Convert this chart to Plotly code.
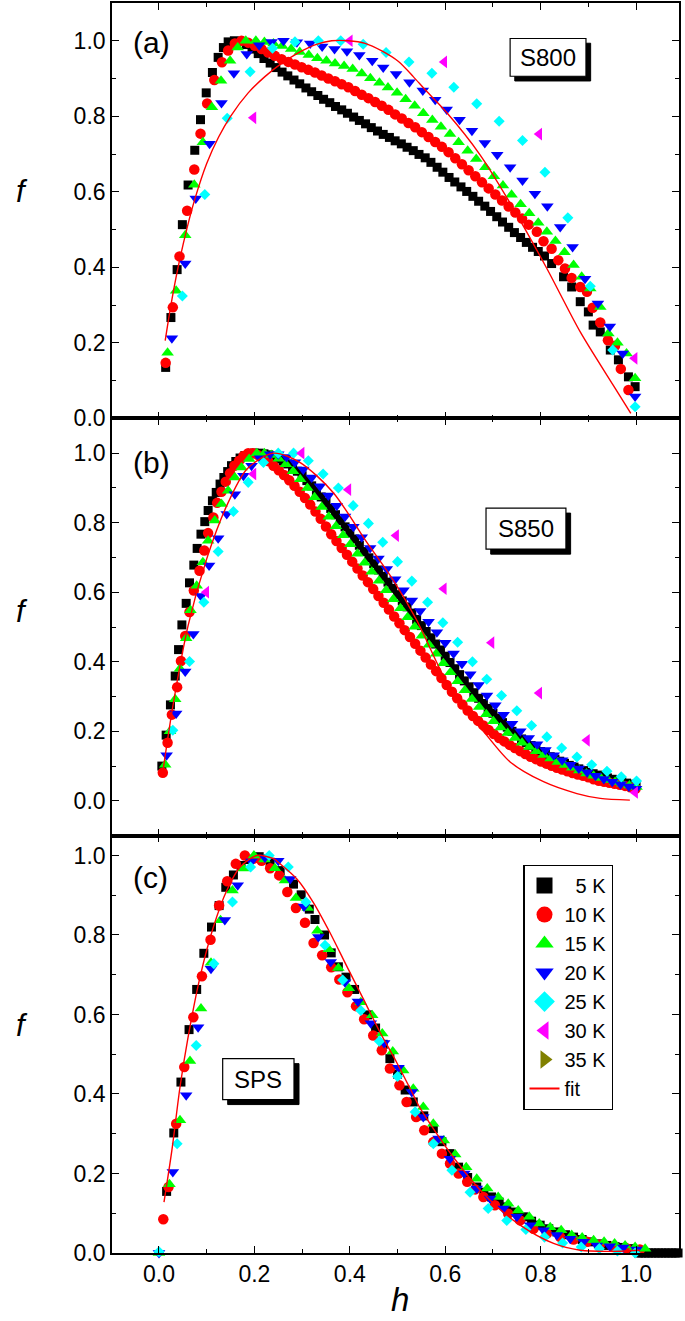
import plotly.graph_objects as go
from plotly.subplots import make_subplots

# ---------------- Panel (a) S800 ----------------
h_a5 = [0.014,0.025,0.038,0.049,0.061,0.075,0.087,0.099,0.112,0.124,0.135,0.145,0.158,
        0.17,0.183,0.195,0.208,0.22,0.233,0.245,0.258,0.27,0.283,0.295,0.308,0.32,0.333,0.345,0.358,0.37,0.383,0.395,0.408,
        0.42,0.433,0.445,0.458,0.47,0.483,0.495,0.508,0.52,0.533,0.545,0.558,0.57,0.583,0.595,0.608,0.62,0.633,0.645,0.658,
        0.67,0.683,0.695,0.708,0.72,0.733,0.745,0.758,0.77,0.783,0.795,0.808,0.823,0.848,0.865,0.883,0.9,0.91,0.925,0.946,
        0.963,0.984,0.998]
f_a5 = [0.135,0.267,0.394,0.513,0.618,0.71,0.791,0.862,0.916,0.956,0.982,0.997,1.0,
        0.998,0.99,0.978,0.966,0.953,0.941,0.929,0.917,0.907,0.896,0.886,0.875,0.865,0.855,0.845,0.836,0.826,0.817,0.808,0.798,
        0.789,0.78,0.77,0.761,0.752,0.744,0.735,0.727,0.718,0.709,0.699,0.69,0.678,0.665,0.652,0.638,0.626,0.613,0.601,0.588,
        0.575,0.562,0.548,0.534,0.52,0.506,0.492,0.479,0.466,0.453,0.442,0.43,0.41,0.375,0.348,0.309,0.282,0.247,0.229,0.181,
        0.155,0.11,0.084]

h_a10 = [0.014,0.029,0.043,0.059,0.074,0.087,0.101,0.116,0.132,0.145,0.159,0.173,
         0.187,0.201,0.215,0.229,0.243,0.257,0.271,0.285,0.299,0.313,0.327,0.341,0.355,0.369,0.383,0.397,0.411,0.425,0.439,0.453,
         0.467,0.481,0.495,0.509,0.523,0.537,0.551,0.565,0.579,0.593,0.607,0.621,0.635,0.649,0.663,0.677,0.691,0.705,0.719,0.733,
         0.747,0.761,0.775,0.792,0.806,0.823,0.837,0.851,0.865,0.883,0.897,0.909,0.925,0.941,0.956,0.968,0.984]
f_a10 = [0.147,0.294,0.429,0.55,0.659,0.754,0.834,0.896,0.943,0.974,0.993,1.0,
         0.995,0.987,0.978,0.969,0.96,0.951,0.944,0.937,0.93,0.923,0.916,0.908,0.9,0.893,0.885,0.877,0.867,0.857,0.848,0.838,
         0.828,0.817,0.805,0.794,0.782,0.771,0.758,0.745,0.732,0.719,0.705,0.689,0.673,0.657,0.641,0.625,0.609,0.593,0.577,0.561,
         0.545,0.529,0.513,0.494,0.469,0.449,0.419,0.397,0.372,0.348,0.335,0.293,0.254,0.207,0.192,0.131,0.075]

h_a15 = [0.018,0.036,0.055,0.074,0.092,0.111,0.13,0.149,0.165,0.182,0.203,0.221,0.24,0.258,0.277,0.295,0.314,0.332,0.351,0.369,
         0.388,0.406,0.425,0.443,0.462,0.48,0.499,0.517,0.536,0.554,0.573,0.591,0.61,0.628,0.647,0.665,0.684,0.702,0.721,0.739,
         0.758,0.776,0.795,0.813,0.831,0.85,0.869,0.886,0.904,0.925,0.942,0.961,0.98,0.998]
f_a15 = [0.174,0.338,0.485,0.619,0.731,0.824,0.894,0.947,0.982,1.0,1.0,0.997,0.993,0.986,0.978,0.97,0.962,0.954,0.947,0.94,
         0.933,0.925,0.913,0.901,0.889,0.876,0.862,0.845,0.828,0.808,0.79,0.772,0.753,0.731,0.709,0.687,0.665,0.641,0.617,0.592,
         0.567,0.543,0.518,0.494,0.47,0.44,0.406,0.375,0.344,0.295,0.225,0.2,0.172,0.106]

h_a20 = [0.027,0.055,0.077,0.106,0.131,0.157,0.184,0.21,0.236,0.261,0.289,0.317,0.342,0.368,0.394,0.42,0.447,0.47,0.497,0.525,
         0.553,0.579,0.603,0.63,0.656,0.683,0.709,0.736,0.762,0.788,0.814,0.841,0.867,0.893,0.92,0.945,0.972,0.998]
f_a20 = [0.212,0.41,0.582,0.727,0.835,0.914,0.965,0.988,0.997,1.0,0.996,0.993,0.985,0.978,0.972,0.962,0.947,0.929,0.912,0.89,
         0.868,0.844,0.818,0.791,0.762,0.729,0.698,0.665,0.63,0.595,0.562,0.507,0.454,0.37,0.304,0.243,0.172,0.058]

h_a25 = [0.049,0.096,0.143,0.191,0.238,0.285,0.334,0.381,0.428,0.476,0.524,0.572,0.618,0.666,0.713,0.762,0.809,0.857,0.904,0.951,0.998]
f_a25 = [0.324,0.593,0.795,0.918,0.98,0.997,1.0,1.0,0.991,0.969,0.944,0.914,0.877,0.833,0.787,0.736,0.652,0.531,0.35,0.181,0.031]

h_a30 = [0.198,0.4,0.598,0.797,0.997]
f_a30 = [0.796,1.0,0.944,0.753,0.159]

h_afit = [0.013,0.025,0.04,0.058,0.075,0.1,0.125,0.15,0.187,0.222,0.257,0.292,0.327,0.362,0.397,0.432,0.467,0.502,0.533,0.558,
          0.603,0.673,0.743,0.813,0.883,0.952,0.989]
f_afit = [0.206,0.3,0.4,0.5,0.58,0.675,0.745,0.8,0.862,0.905,0.94,0.968,0.989,1.0,1.0,0.993,0.973,0.945,0.905,0.87,
          0.81,0.698,0.555,0.397,0.229,0.088,0.013]

# ---------------- Panel (b) S850 ----------------
h_b5 = [0.006,0.015,0.024,0.034,0.041,0.048,0.057,0.064,0.073,0.08,0.088,0.096,0.103,0.112,0.12,0.128,0.136,0.144,0.152,0.161,
        0.17,0.18,0.19,0.2,
        0.21,0.22,0.23,0.24,0.25,0.26,0.27,0.28,0.29,0.3,0.31,0.32,0.33,0.34,0.35,0.36,0.37,0.38,0.39,0.4,
        0.41,0.42,0.43,0.44,0.45,0.46,0.47,0.48,0.49,0.5,0.51,0.52,0.53,0.54,0.55,0.56,0.57,0.58,0.59,0.6,
        0.61,0.62,0.63,0.64,0.65,0.66,0.67,0.68,0.69,0.7,0.71,0.72,0.73,0.74,0.75,0.76,0.77,0.78,0.79,0.8,
        0.81,0.82,0.83,0.84,0.85,0.86,0.87,0.88,0.89,0.9,0.91,0.92,0.93,0.94,0.95,0.96,0.97,0.98,0.99,1.0]
f_b5 = [0.1,0.189,0.276,0.359,0.435,0.506,0.568,0.627,0.678,0.726,0.767,0.803,0.835,0.863,0.887,0.911,0.93,0.947,0.964,0.976,
        0.986,0.993,0.998,1.0,
        1.0,0.998,0.995,0.99,0.984,0.977,0.969,0.959,0.948,0.935,0.921,0.906,0.89,0.874,0.858,0.841,0.823,0.806,0.788,0.77,
        0.753,0.735,0.717,0.699,0.682,0.664,0.646,0.629,0.611,0.593,0.575,0.558,0.54,0.522,0.504,0.487,0.469,0.451,0.434,0.416,
        0.398,0.38,0.363,0.345,0.328,0.311,0.295,0.28,0.266,0.252,0.238,0.225,0.212,0.2,0.189,0.178,0.168,0.159,0.15,0.142,
        0.134,0.127,0.12,0.114,0.108,0.102,0.097,0.092,0.087,0.082,0.078,0.074,0.07,0.066,0.062,0.058,0.055,0.051,0.048,0.045]

h_b10 = [0.008,0.018,0.027,0.038,0.046,0.055,0.064,0.073,0.085,0.095,0.103,0.114,0.122,0.131,0.14,0.149,0.158,0.168,0.177,0.187,0.196,
         0.207,0.218,0.229,0.24,0.251,0.262,0.273,0.284,0.295,0.306,0.317,0.328,0.339,0.35,0.361,0.372,0.383,0.394,0.405,0.416,
         0.427,0.438,0.449,0.46,0.471,0.482,0.493,0.504,0.515,0.526,0.537,0.548,0.559,0.57,0.581,0.592,0.603,0.614,0.625,0.636,
         0.647,0.658,0.669,0.68,0.691,0.702,0.713,0.724,0.735,0.746,0.757,0.768,0.779,0.79,0.801,0.812,0.823,0.834,0.845,0.856,
         0.867,0.878,0.889,0.9,0.911,0.922,0.933,0.944,0.955,0.966,0.977,0.988,0.999]
f_b10 = [0.081,0.167,0.248,0.327,0.402,0.474,0.543,0.605,0.662,0.72,0.77,0.815,0.857,0.889,0.918,0.942,0.964,0.978,0.992,1.0,1.0,
         0.995,0.988,0.977,0.964,0.951,0.937,0.922,0.906,0.889,0.871,0.852,0.832,0.811,0.789,0.767,0.747,0.727,0.708,0.688,0.668,
         0.648,0.629,0.609,0.589,0.57,0.55,0.53,0.511,0.491,0.471,0.452,0.432,0.412,0.392,0.373,0.353,0.333,0.314,0.295,0.277,
         0.26,0.244,0.23,0.217,0.204,0.192,0.181,0.171,0.161,0.152,0.143,0.135,0.127,0.12,0.113,0.107,0.101,0.095,0.09,0.085,
         0.08,0.076,0.072,0.068,0.062,0.058,0.055,0.052,0.049,0.046,0.043,0.039,0.035]

h_b15 = [0.013,0.023,0.034,0.044,0.057,0.066,0.079,0.092,0.103,0.117,0.131,0.145,0.159,0.173,0.189,0.205,0.221,
         0.236,0.251,0.266,0.281,0.296,0.311,0.326,0.341,0.356,0.371,0.386,0.401,0.416,0.431,0.446,0.461,0.476,0.491,0.506,0.521,
         0.536,0.551,0.566,0.581,0.596,0.611,0.626,0.641,0.656,0.671,0.686,0.701,0.716,0.731,0.746,0.761,0.776,0.791,0.806,0.821,
         0.836,0.851,0.866,0.881,0.896,0.911,0.926,0.941,0.956,0.971,0.986,1.001]
f_b15 = [0.104,0.2,0.292,0.38,0.468,0.548,0.619,0.686,0.748,0.806,0.854,0.892,0.93,0.959,0.983,1.0,1.0,
         0.995,0.984,0.968,0.948,0.925,0.9,0.873,0.845,0.817,0.79,0.764,0.738,0.711,0.685,0.659,0.633,0.606,0.58,0.554,0.528,
         0.501,0.475,0.449,0.423,0.396,0.37,0.344,0.318,0.293,0.27,0.249,0.229,0.211,0.195,0.181,0.167,0.155,0.143,0.132,0.122,
         0.112,0.103,0.095,0.087,0.079,0.072,0.066,0.06,0.054,0.049,0.044,0.04]

h_b20 = [0.016,0.036,0.055,0.072,0.088,0.105,0.124,0.142,0.159,0.177,0.194,0.212,0.233,
         0.25,0.2675,0.285,0.3025,0.32,0.3375,0.355,0.3725,0.39,0.4075,0.425,0.4425,0.46,0.4775,0.495,0.5125,0.53,0.5475,0.565,0.5825,
         0.6,0.6175,0.635,0.6525,0.67,0.6875,0.705,0.7225,0.74,0.7575,0.775,0.7925,0.81,0.8275,0.845,0.8625,0.88,0.8975,0.915,0.9325,
         0.95,0.9675,0.985,1.0]
f_b20 = [0.131,0.251,0.372,0.48,0.589,0.677,0.755,0.825,0.882,0.935,0.964,0.985,0.997,
         0.997,0.989,0.974,0.953,0.93,0.905,0.878,0.849,0.818,0.788,0.758,0.727,0.697,0.667,0.637,0.606,0.576,0.546,0.515,0.485,
         0.455,0.424,0.394,0.364,0.333,0.303,0.275,0.248,0.222,0.2,0.181,0.163,0.146,0.131,0.117,0.104,0.093,0.082,0.072,0.063,
         0.055,0.048,0.041,0.035]

h_b25 = [0.029,0.064,0.094,0.124,0.156,0.187,0.219,0.25,0.282,0.313,0.344,0.376,0.407,0.439,0.469,0.5,0.53,0.563,0.595,0.626,
         0.657,0.687,0.718,0.75,0.781,0.813,0.844,0.876,0.907,0.939,0.969,1.001]
f_b25 = [0.203,0.401,0.571,0.717,0.832,0.916,0.973,1.0,1.0,0.978,0.94,0.9,0.849,0.798,0.744,0.688,0.632,0.571,0.512,0.456,
         0.4,0.35,0.303,0.259,0.217,0.184,0.152,0.126,0.104,0.085,0.069,0.057]

h_b30 = [0.099,0.198,0.299,0.397,0.497,0.597,0.697,0.797,0.897,0.998]
f_b30 = [0.6,0.94,1.0,0.895,0.763,0.61,0.455,0.31,0.174,0.024]

h_bfit = [0.009,0.03,0.061,0.1,0.142,0.184,0.24,0.296,0.365,0.435,0.491,0.54,0.596,0.636,0.68,0.736,0.806,0.876,0.925,0.987]
f_bfit = [0.093,0.28,0.504,0.696,0.849,0.954,1.0,0.973,0.887,0.745,0.635,0.52,0.36,0.27,0.2,0.112,0.055,0.021,0.007,0.002]

# ---------------- Panel (c) SPS ----------------
h_c5 = [0.016,0.031,0.046,0.063,0.079,0.094,0.11,0.126,0.14,0.156,
        0.172,0.19,0.21,0.233,0.254,0.282,0.298,0.315,0.327,0.347,0.361,0.376,0.392,0.41,0.437,0.454,0.47,0.484,0.5,0.516,
        0.533,0.555,0.575,0.593,0.61,0.628,0.647,0.666,0.681,0.697,0.713,0.729,0.746,0.764,0.781,0.799,0.817,0.834,0.852,0.869,
        0.887,0.904,0.921,0.939,0.956,0.973,0.99]
f_c5 = [0.155,0.302,0.43,0.562,0.663,0.754,0.82,0.874,0.92,0.951,
        0.975,0.99,0.997,0.983,0.962,0.928,0.901,0.865,0.839,0.8,0.755,0.72,0.694,0.663,0.599,0.566,0.525,0.489,0.45,0.41,
        0.38,0.345,0.313,0.28,0.25,0.216,0.19,0.166,0.153,0.141,0.128,0.116,0.103,0.091,0.08,0.07,0.061,0.053,0.046,0.04,
        0.034,0.028,0.023,0.019,0.016,0.014,0.011]
# 5 K points lying on f = 0 beyond h = 1
h_c5_tail = [1.005,1.012,1.019,1.026,1.033,1.04,1.047,1.054,1.061,1.068,1.075,1.082,1.088]
f_c5_tail = [0.0,0.0,0.0,0.0,0.0,0.0,0.0,0.0,0.0,0.0,0.0,0.0,0.0]

h_c10 = [0.009,0.02,0.036,0.053,0.072,0.09,0.108,0.126,0.143,0.161,0.18,0.198,0.215,0.233,0.252,0.269,0.287,0.306,0.324,0.342,
         0.361,0.378,0.395,0.413,0.43,0.449,0.467,0.484,0.504,0.519,0.539,0.556,0.575,0.593,0.61,0.628,0.646,0.663,0.68,0.704,
         0.732,0.757,0.785,0.813,0.841,0.869,0.897,0.924,0.952,0.98,1.008]
f_c10 = [0.085,0.166,0.325,0.468,0.593,0.696,0.788,0.874,0.935,0.979,1.0,0.992,0.987,0.968,0.95,0.908,0.868,0.831,0.78,0.749,
         0.719,0.688,0.656,0.621,0.588,0.547,0.51,0.464,0.422,0.38,0.342,0.309,0.279,0.25,0.225,0.2,0.179,0.16,0.141,0.12,
         0.099,0.082,0.061,0.049,0.04,0.034,0.028,0.021,0.015,0.012,0.009]

h_c15 = [0.0,0.022,0.044,0.065,0.088,0.109,0.129,0.154,0.177,0.199,0.221,0.243,0.264,0.287,0.312,0.332,0.356,0.376,0.398,0.423,
         0.447,0.468,0.49,0.512,0.533,0.554,0.575,0.597,0.621,0.644,0.666,0.688,0.711,0.732,0.753,0.776,0.797,0.82,0.843,0.865,
         0.887,0.911,0.933,0.955,0.977,0.998,1.019]
f_c15 = [0.0,0.173,0.334,0.483,0.615,0.73,0.837,0.912,0.967,1.0,0.99,0.968,0.937,0.893,0.868,0.811,0.764,0.717,0.666,0.631,
         0.598,0.552,0.507,0.459,0.413,0.367,0.325,0.283,0.248,0.216,0.187,0.162,0.141,0.124,0.107,0.091,0.074,0.065,0.057,0.045,
         0.039,0.032,0.028,0.024,0.019,0.015,0.011]

h_c20 = [0.0,0.029,0.057,0.082,0.109,0.138,0.165,0.194,0.222,0.25,0.275,0.304,0.334,0.36,0.39,0.417,0.444,0.472,0.502,0.53,
         0.554,0.586,0.61,0.64,0.666,0.694,0.722,0.75,0.778,0.806,0.834,0.862,0.89,0.918,0.945,0.973,1.001]
f_c20 = [0.0,0.204,0.397,0.568,0.715,0.838,0.925,0.985,0.995,0.987,0.941,0.872,0.795,0.732,0.681,0.633,0.578,0.528,0.466,0.405,
         0.342,0.288,0.237,0.2,0.162,0.137,0.112,0.091,0.07,0.057,0.045,0.036,0.028,0.019,0.017,0.014,0.009]

h_c25 = [0.0,0.038,0.078,0.115,0.154,0.192,0.231,0.271,0.308,0.348,0.385,0.423,0.462,0.5,0.537,0.575,0.614,0.652,0.69,0.729,
         0.769,0.808,0.846,0.885,0.923,0.961,0.998]
f_c25 = [0.003,0.275,0.522,0.728,0.883,0.971,1.0,0.971,0.883,0.774,0.687,0.61,0.533,0.444,0.355,0.275,0.208,0.153,0.112,0.082,
         0.059,0.04,0.025,0.015,0.011,0.005,0.0]

h_cfit = [0.0105,0.027,0.044,0.061,0.086,0.114,0.142,0.17,0.205,0.24,0.254,0.289,0.323,0.358,0.393,0.428,0.463,0.498,0.53,0.547,
          0.617,0.687,0.757,0.827,0.883,0.939,1.008]
f_cfit = [0.128,0.258,0.417,0.543,0.694,0.82,0.912,0.971,1.0,0.992,0.979,0.941,0.883,0.807,0.723,0.64,0.556,0.48,0.405,0.365,
          0.241,0.141,0.07,0.024,0.007,0.004,0.007]

series_names = ["\u20075 K", "10 K", "15 K", "20 K", "25 K", "30 K", "35 K"]

# ---------------- styling ----------------
COLORS = ["#000000", "#FF0000", "#00FF00", "#0000FF", "#00FFFF", "#FF00FF", "#808000"]
SYMBOLS = ["square", "circle", "triangle-up", "triangle-down", "diamond", "triangle-left", "triangle-right"]
SIZES = [9, 10.5, 11, 11, 8.5, 11, 11]
FONT = "Liberation Sans, Arial, sans-serif"

fig = make_subplots(rows=3, cols=1, shared_xaxes=True, vertical_spacing=0)


def add_markers(h, f, row, k):
    n = min(len(h), len(f))
    fig.add_trace(go.Scatter(x=h[:n], y=f[:n], mode="markers", showlegend=False, cliponaxis=False,
                             hoverinfo="skip",
                             marker=dict(color=COLORS[k], symbol=SYMBOLS[k], size=SIZES[k], line=dict(width=0))),
                  row=row, col=1)


def add_fit(h, f, row):
    n = min(len(h), len(f))
    fig.add_trace(go.Scatter(x=h[:n], y=f[:n], mode="lines", showlegend=False, hoverinfo="skip",
                             line=dict(color="#FF0000", width=1.4, shape="spline", smoothing=0.8)),
                  row=row, col=1)


panel_a = [(h_a5, f_a5), (h_a10, f_a10), (h_a15, f_a15), (h_a20, f_a20), (h_a25, f_a25), (h_a30, f_a30)]
panel_b = [(h_b5, f_b5), (h_b10, f_b10), (h_b15, f_b15), (h_b20, f_b20), (h_b25, f_b25), (h_b30, f_b30)]
panel_c = [(h_c5, f_c5), (h_c10, f_c10), (h_c15, f_c15), (h_c20, f_c20), (h_c25, f_c25)]

for k, (h, f) in enumerate(panel_a):
    add_markers(h, f, 1, k)
add_fit(h_afit, f_afit, 1)
for k, (h, f) in enumerate(panel_b):
    add_markers(h, f, 2, k)
add_fit(h_bfit, f_bfit, 2)
add_markers(h_c5_tail, f_c5_tail, 3, 0)
for k, (h, f) in enumerate(panel_c):
    add_markers(h, f, 3, k)
add_fit(h_cfit, f_cfit, 3)

# legend-only entries
for k, name in enumerate(series_names):
    fig.add_trace(go.Scatter(x=[None], y=[None], mode="markers", name=name,
                             marker=dict(color=COLORS[k], symbol=SYMBOLS[k], size=16, line=dict(width=0))),
                  row=3, col=1)
fig.add_trace(go.Scatter(x=[None], y=[None], mode="lines", name="fit",
                         line=dict(color="#FF0000", width=2)), row=3, col=1)

axis_common = dict(showline=True, linecolor="black", linewidth=1.6, mirror="allticks",
                   ticks="inside", ticklen=7, tickwidth=1.4, tickcolor="black",
                   showgrid=False, zeroline=False, tick0=0, dtick=0.2, tickformat=".1f",
                   minor=dict(ticks="inside", ticklen=4, tickwidth=1.2, tickcolor="black", dtick=0.1, tick0=0,
                              showgrid=False),
                   tickfont=dict(family=FONT, size=23, color="black"))

X_RANGE = [-0.0985, 1.09]
fig.update_xaxes(**axis_common, range=X_RANGE)
fig.update_xaxes(showticklabels=False, row=1, col=1)
fig.update_xaxes(showticklabels=False, row=2, col=1)
fig.update_xaxes(showticklabels=True, row=3, col=1)
fig.update_yaxes(**axis_common)

fig.update_layout(
    yaxis=dict(domain=[0.6677, 1.0], range=[0, 1.1]),
    yaxis2=dict(domain=[0.3339, 0.6677], range=[-0.1, 1.1]),
    yaxis3=dict(domain=[0.0, 0.3339], range=[0, 1.05]),
)


def box(xref, yref, x0, x1, y0, y1, dx, dy):
    return [
        dict(type="rect", xref=xref, yref=yref, x0=x0 + dx, x1=x1 + dx, y0=y0 - dy, y1=y1 - dy,
             fillcolor="black", line=dict(color="black", width=1), layer="above"),
        dict(type="rect", xref=xref, yref=yref, x0=x0, x1=x1, y0=y0, y1=y1,
             fillcolor="white", line=dict(color="black", width=1.2), layer="above"),
    ]


shapes = []
shapes += box("x", "y", 0.736, 0.895, 0.906, 1.006, 0.0098, 0.0125)
shapes += box("x2", "y2", 0.6855, 0.853, 0.724, 0.842, 0.0098, 0.0144)
shapes += box("x3", "y3", 0.1335, 0.283, 0.386, 0.489, 0.0105, 0.0126)

big = dict(family=FONT, size=24, color="black")
lab = dict(family=FONT, size=30, color="black")
ttl = dict(family=FONT, size=31, color="black")
annotations = [
    dict(text="S800", xref="x", yref="y", x=0.8155, y=0.956, showarrow=False, font=big,
         xanchor="center", yanchor="middle"),
    dict(text="S850", xref="x2", yref="y2", x=0.769, y=0.783, showarrow=False, font=big,
         xanchor="center", yanchor="middle"),
    dict(text="SPS", xref="x3", yref="y3", x=0.208, y=0.4375, showarrow=False, font=big,
         xanchor="center", yanchor="middle"),
    dict(text="(a)", xref="x", yref="y", x=-0.058, y=0.995, showarrow=False, font=lab,
         xanchor="left", yanchor="middle"),
    dict(text="(b)", xref="x2", yref="y2", x=-0.058, y=0.973, showarrow=False, font=lab,
         xanchor="left", yanchor="middle"),
    dict(text="(c)", xref="x3", yref="y3", x=-0.058, y=0.945, showarrow=False, font=lab,
         xanchor="left", yanchor="middle"),
    dict(text="<i>f</i>", xref="paper", yref="paper", x=-0.159, y=0.849, showarrow=False, font=ttl,
         xanchor="center", yanchor="middle"),
    dict(text="<i>f</i>", xref="paper", yref="paper", x=-0.159, y=0.5136, showarrow=False, font=ttl,
         xanchor="center", yanchor="middle"),
    dict(text="<i>f</i>", xref="paper", yref="paper", x=-0.159, y=0.182, showarrow=False, font=ttl,
         xanchor="center", yanchor="middle"),
    dict(text="<i>h</i>", xref="paper", yref="paper", x=0.508, y=-0.0375, showarrow=False,
         font=dict(family=FONT, size=33, color="black"), xanchor="center", yanchor="middle"),
]

fig.update_layout(
    width=685, height=1321,
    margin=dict(l=112, r=6, t=1, b=68),
    paper_bgcolor="white", plot_bgcolor="white",
    shapes=shapes, annotations=annotations,
    showlegend=True,
    legend=dict(x=0.7254, y=0.3105, xanchor="left", yanchor="top",
                bordercolor="black", borderwidth=1.2, bgcolor="white",
                font=dict(family=FONT, size=20, color="black"),
                tracegroupgap=0, itemwidth=30),
)

fig.write_html("out.html", config={"displayModeBar": False},
               post_script="document.body.style.margin='0';")
